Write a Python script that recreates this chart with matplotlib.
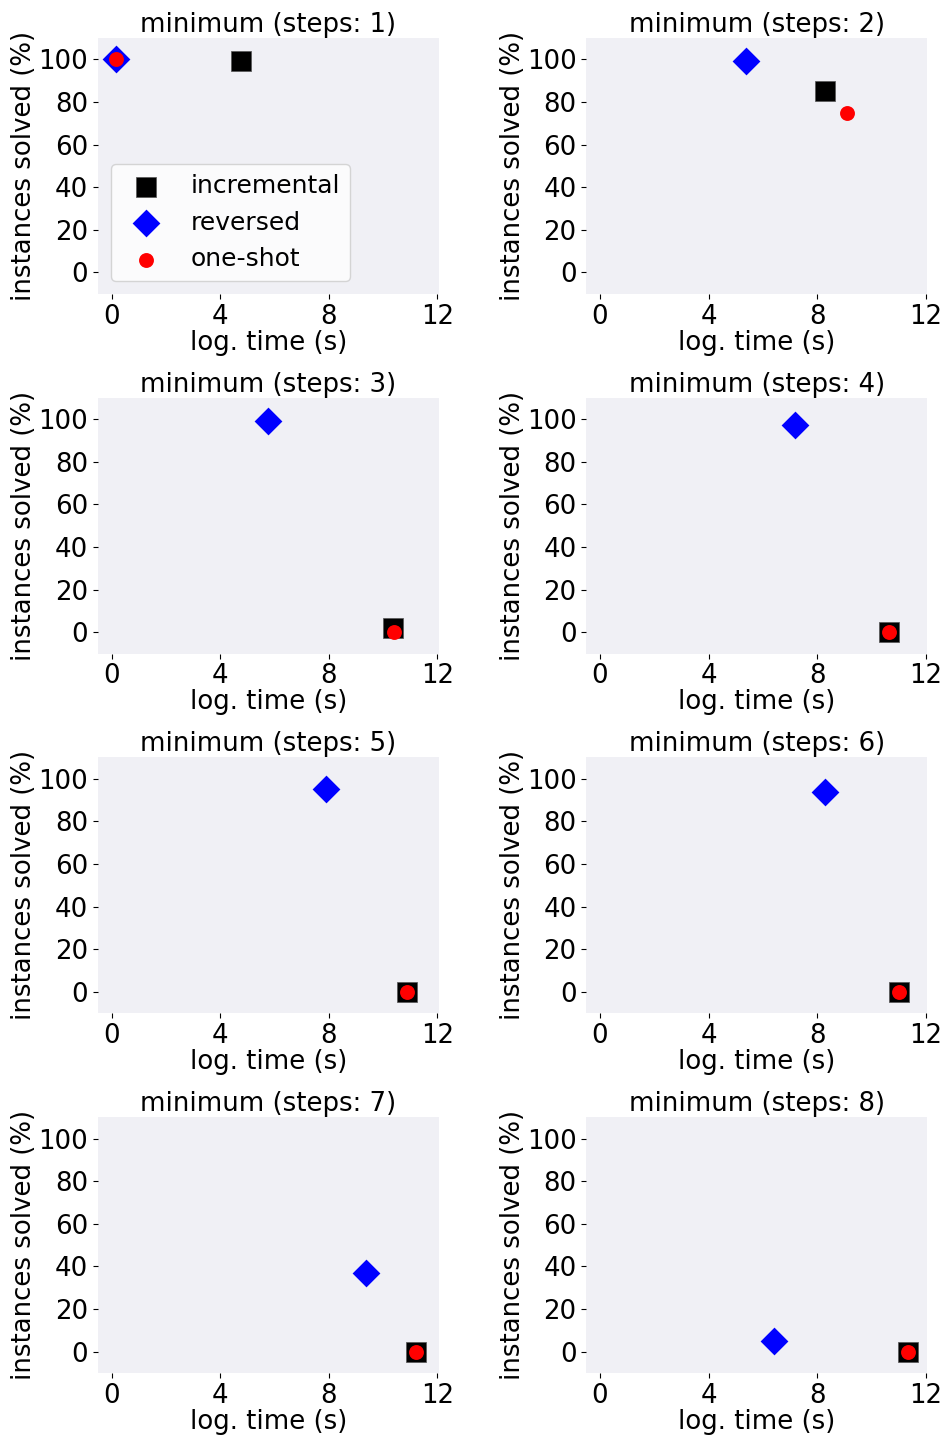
import matplotlib
matplotlib.use('Agg')
import matplotlib.pyplot as plt

steps = [1, 2, 3, 4, 5, 6, 7, 8]

# log. time (s) and instances solved (%) per step count
inc_time = [4.78, 8.29, 10.37, 10.63, 10.89, 11.03, 11.22, 11.33]
inc_solved = [99, 85, 2, 0, 0, 0, 0, 0]
rev_time = [0.15, 5.39, 5.78, 7.2, 7.89, 8.3, 9.37, 6.42]
rev_solved = [100, 99, 99, 97, 95, 94, 37, 5]
one_time = [0.15, 9.11, 10.4, 10.63, 10.89, 11.03, 11.22, 11.33]
one_solved = [100, 75, 0, 0, 0, 0, 0, 0]

xticks = [0, 4, 8, 12]
yticks = [0, 20, 40, 60, 80, 100]

plt.rcParams['font.size'] = 18.7

fig, axes = plt.subplots(4, 2, figsize=(9.46, 14.37), dpi=100)
fig.subplots_adjust(left=0.1036, right=0.98, top=0.9736, bottom=0.0445,
                    wspace=0.434, hspace=0.406)

for i, ax in enumerate(axes.flat):
    ax.set_facecolor('#f0f0f5')
    for s in ax.spines.values():
        s.set_visible(False)
    ax.scatter(inc_time[i], inc_solved[i], s=200, c='black', marker='s',
               linewidths=0.5, edgecolors='#555555', label='incremental', zorder=2)
    ax.scatter(rev_time[i], rev_solved[i], s=200, c='blue', marker='D',
               linewidths=0, label='reversed', zorder=3)
    ax.scatter(one_time[i], one_solved[i], s=115, c='red', marker='o',
               linewidths=0, label='one-shot', zorder=4)
    ax.set_xlim(-0.5, 12.05)
    ax.set_ylim(-10, 110)
    ax.set_xticks(xticks)
    ax.set_yticks(yticks)
    ax.set_title('minimum (steps: %d)' % steps[i], fontsize=18.7, pad=3)
    ax.set_xlabel('log. time (s)', labelpad=0)
    ax.set_ylabel('instances solved (%)', labelpad=1)
    if i == 0:
        ax.legend(loc='lower left', scatterpoints=1, fontsize=18)

fig.savefig('out.png', dpi=100)
